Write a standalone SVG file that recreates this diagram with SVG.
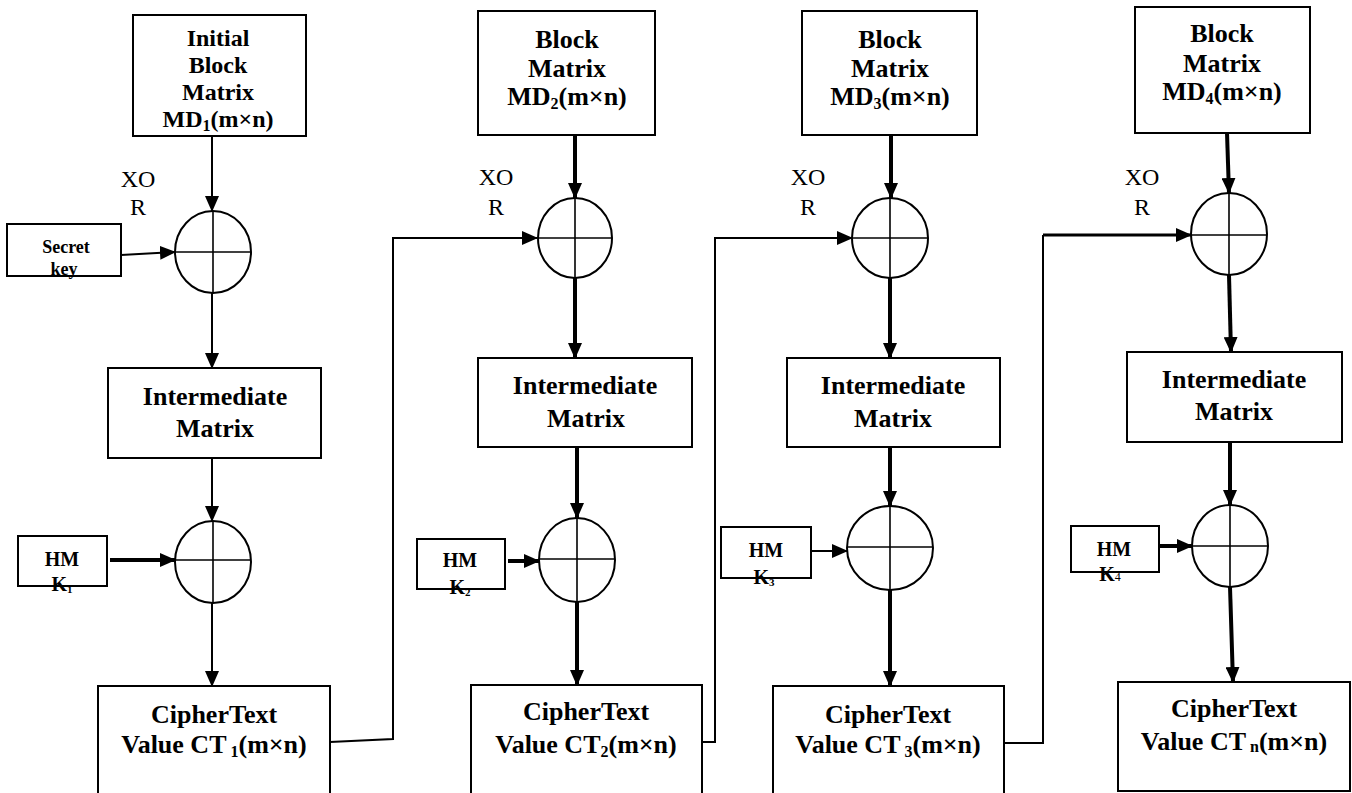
<svg xmlns="http://www.w3.org/2000/svg" width="1352" height="793" viewBox="0 0 1352 793">
<defs>
<marker id="ah" markerUnits="userSpaceOnUse" markerWidth="16" markerHeight="14" viewBox="0 0 16 14" refX="15" refY="7" orient="auto">
<path d="M0,0 L16,7 L0,14 Z" fill="#000"/>
</marker>
<style>
.box{fill:#fff;stroke:#000;stroke-width:2}
.xc{fill:#fff;stroke:#000;stroke-width:2}
.cr{stroke:#000;stroke-width:1.6;fill:none}
.t{font-family:"Liberation Serif","Times New Roman",serif;font-weight:bold;font-size:26px;text-anchor:middle;fill:#000}
.s{font-family:"Liberation Serif","Times New Roman",serif;font-weight:bold;font-size:20px;text-anchor:middle;fill:#000}
.x{font-family:"Liberation Serif","Times New Roman",serif;font-size:24px;text-anchor:middle;fill:#000}
.sub{font-size:16px}
.ks{font-size:11px}
.c1{stroke:#000;stroke-width:2;fill:none}
.a1{stroke:#000;stroke-width:2;fill:none;marker-end:url(#ah)}
.a3{stroke:#000;stroke-width:4;fill:none;marker-end:url(#ah)}
</style>
</defs>
<rect width="1352" height="793" fill="#fff"/>

<g id="connectors">
<!-- column 1 -->
<line class="a1" x1="212" y1="136" x2="212" y2="211"/>
<line class="a1" x1="212" y1="293" x2="212" y2="368"/>
<line class="a1" x1="212" y1="458" x2="212" y2="521"/>
<line class="a1" x1="212" y1="603" x2="212" y2="686"/>
<line class="a1" x1="121" y1="255" x2="175" y2="252"/>
<line class="a3" x1="110" y1="560" x2="175" y2="560"/>
<!-- column 2 -->
<line class="a3" x1="575" y1="135" x2="575" y2="198"/>
<line class="a3" x1="575" y1="278" x2="575" y2="358"/>
<line class="a3" x1="577" y1="447" x2="577" y2="518"/>
<line class="a3" x1="577" y1="602" x2="577" y2="685"/>
<line class="a3" x1="508" y1="561" x2="539" y2="561"/>
<polyline class="a1" points="330,742 393,739 393,238 537,238"/>
<!-- column 3 -->
<line class="a3" x1="891" y1="135" x2="891" y2="198"/>
<line class="a3" x1="890" y1="278" x2="890" y2="358"/>
<line class="a3" x1="890" y1="447" x2="890" y2="506"/>
<line class="a3" x1="890" y1="590" x2="890" y2="686"/>
<line class="a1" x1="811" y1="551" x2="847" y2="551"/>
<polyline class="a1" points="702,742 715,742 715,238 852,238"/>
<!-- column 4 -->
<line class="a3" x1="1227" y1="133" x2="1229" y2="193"/>
<line class="a3" x1="1229" y1="275" x2="1231" y2="352"/>
<line class="a3" x1="1230" y1="442" x2="1230" y2="505"/>
<line class="a3" x1="1230" y1="587" x2="1233" y2="682"/>
<line class="a3" x1="1159" y1="546" x2="1192" y2="546"/>
<polyline class="c1" points="1004,743 1043,743 1043,235"/>
<line class="a3" x1="1043" y1="235" x2="1191" y2="235" style="stroke-width:3"/>
</g>

<!-- Column 1 -->
<g id="md1">
<rect class="box" x="133" y="15" width="173" height="121"/>
<text class="t" x="218" y="46" style="font-size:24px">Initial</text>
<text class="t" x="218" y="73" style="font-size:24px">Block</text>
<text class="t" x="218" y="100" style="font-size:24px">Matrix</text>
<text class="t" x="218" y="127" style="font-size:24px">MD<tspan class="sub" dy="4">1</tspan><tspan dy="-4">(m×n)</tspan></text>
</g>
<g id="xor1">
<text class="x" x="138" y="187">XO</text>
<text class="x" x="138" y="215">R</text>
<ellipse class="xc" cx="213" cy="252" rx="38" ry="41"/>
<line class="cr" x1="213" y1="211" x2="213" y2="293"/>
<line class="cr" x1="175" y1="252" x2="251" y2="252"/>
</g>
<g id="secretkey">
<rect class="box" x="7" y="224" width="114" height="52"/>
<text class="s" x="66" y="253" style="font-size:18px">Secret</text>
<text class="s" x="64" y="275" style="font-size:18px">key</text>
</g>
<g id="im1">
<rect class="box" x="108" y="368" width="213" height="90"/>
<text class="t" x="215" y="405">Intermediate</text>
<text class="t" x="215" y="437">Matrix</text>
</g>
<g id="xor1b">
<ellipse class="xc" cx="213" cy="562" rx="38" ry="41"/>
<line class="cr" x1="213" y1="521" x2="213" y2="603"/>
<line class="cr" x1="175" y1="560" x2="251" y2="560"/>
</g>
<g id="hmk1">
<rect class="box" x="18" y="536" width="89" height="50"/>
<text class="s" x="62" y="566">HM</text>
<text class="s" x="62" y="591">K<tspan class="ks" dy="2">1</tspan></text>
</g>
<g id="ct1">
<rect class="box" x="98" y="686" width="232" height="120"/>
<text class="t" x="214" y="723">CipherText</text>
<text class="t" x="214" y="753">Value CT<tspan class="sub" dy="4"> 1</tspan><tspan dy="-4">(m×n)</tspan></text>
</g>

<!-- Column 2 -->
<g id="md2">
<rect class="box" x="478" y="11" width="177" height="124"/>
<text class="t" x="567" y="48">Block</text>
<text class="t" x="567" y="77">Matrix</text>
<text class="t" x="567" y="105">MD<tspan class="sub" dy="4">2</tspan><tspan dy="-4">(m×n)</tspan></text>
</g>
<g id="xor2">
<text class="x" x="496" y="185">XO</text>
<text class="x" x="496" y="215">R</text>
<ellipse class="xc" cx="575" cy="238" rx="37" ry="40"/>
<line class="cr" x1="575" y1="198" x2="575" y2="278"/>
<line class="cr" x1="538" y1="238" x2="612" y2="238"/>
</g>
<g id="im2">
<rect class="box" x="478" y="358" width="214" height="89"/>
<text class="t" x="585" y="394">Intermediate</text>
<text class="t" x="586" y="427">Matrix</text>
</g>
<g id="xor2b">
<ellipse class="xc" cx="577" cy="560" rx="38" ry="42"/>
<line class="cr" x1="577" y1="518" x2="577" y2="602"/>
<line class="cr" x1="539" y1="559" x2="615" y2="559"/>
</g>
<g id="hmk2">
<rect class="box" x="417" y="539" width="88" height="50"/>
<text class="s" x="460" y="567">HM</text>
<text class="s" x="460" y="594">K<tspan class="ks" dy="2">2</tspan></text>
</g>
<g id="ct2">
<rect class="box" x="471" y="685" width="231" height="120"/>
<text class="t" x="586" y="720">CipherText</text>
<text class="t" x="586" y="753">Value CT<tspan class="sub" dy="4">2</tspan><tspan dy="-4">(m×n)</tspan></text>
</g>

<!-- Column 3 -->
<g id="md3">
<rect class="box" x="802" y="11" width="175" height="124"/>
<text class="t" x="890" y="48">Block</text>
<text class="t" x="890" y="77">Matrix</text>
<text class="t" x="890" y="105">MD<tspan class="sub" dy="4">3</tspan><tspan dy="-4">(m×n)</tspan></text>
</g>
<g id="xor3">
<text class="x" x="808" y="185">XO</text>
<text class="x" x="808" y="215">R</text>
<ellipse class="xc" cx="890" cy="238" rx="38" ry="40"/>
<line class="cr" x1="890" y1="198" x2="890" y2="278"/>
<line class="cr" x1="852" y1="238" x2="928" y2="238"/>
</g>
<g id="im3">
<rect class="box" x="787" y="358" width="213" height="89"/>
<text class="t" x="893" y="394">Intermediate</text>
<text class="t" x="893" y="427">Matrix</text>
</g>
<g id="xor3b">
<ellipse class="xc" cx="890" cy="548" rx="43" ry="42"/>
<line class="cr" x1="890" y1="506" x2="890" y2="590"/>
<line class="cr" x1="847" y1="547" x2="933" y2="547"/>
</g>
<g id="hmk3">
<rect class="box" x="721" y="527" width="90" height="51"/>
<text class="s" x="766" y="557">HM</text>
<text class="s" x="764" y="584">K<tspan class="ks" dy="2">3</tspan></text>
</g>
<g id="ct3">
<rect class="box" x="773" y="686" width="231" height="120"/>
<text class="t" x="888" y="723">CipherText</text>
<text class="t" x="888" y="753">Value CT<tspan class="sub" dy="4"> 3</tspan><tspan dy="-4">(m×n)</tspan></text>
</g>

<!-- Column 4 -->
<g id="md4">
<rect class="box" x="1135" y="7" width="175" height="126"/>
<text class="t" x="1222" y="42">Block</text>
<text class="t" x="1222" y="72">Matrix</text>
<text class="t" x="1222" y="100">MD<tspan class="sub" dy="4">4</tspan><tspan dy="-4">(m×n)</tspan></text>
</g>
<g id="xor4">
<text class="x" x="1142" y="185">XO</text>
<text class="x" x="1142" y="215">R</text>
<ellipse class="xc" cx="1229" cy="234" rx="38" ry="41"/>
<line class="cr" x1="1229" y1="193" x2="1229" y2="275"/>
<line class="cr" x1="1191" y1="235" x2="1267" y2="235"/>
</g>
<g id="im4">
<rect class="box" x="1127" y="352" width="215" height="90"/>
<text class="t" x="1234" y="388">Intermediate</text>
<text class="t" x="1234" y="420">Matrix</text>
</g>
<g id="xor4b">
<ellipse class="xc" cx="1230" cy="546" rx="38" ry="41"/>
<line class="cr" x1="1230" y1="505" x2="1230" y2="587"/>
<line class="cr" x1="1192" y1="546" x2="1268" y2="546"/>
</g>
<g id="hmk4">
<rect class="box" x="1071" y="526" width="88" height="46"/>
<text class="s" x="1114" y="556">HM</text>
<text class="s" x="1110" y="581">K<tspan style="font-size:12px" font-weight="normal">4</tspan></text>
</g>
<g id="ct4">
<rect class="box" x="1118" y="682" width="232" height="109"/>
<text class="t" x="1234" y="717">CipherText</text>
<text class="t" x="1234" y="750">Value CT<tspan class="sub" dy="2"> n</tspan><tspan dy="-2">(m×n)</tspan></text>
</g>
</svg>
